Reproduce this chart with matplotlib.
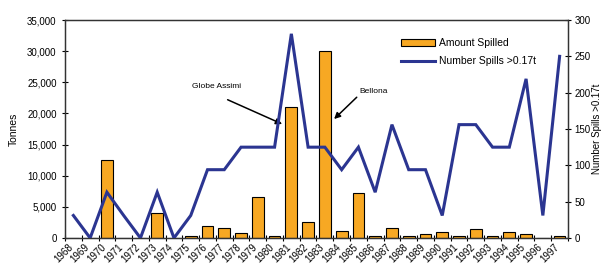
import matplotlib.pyplot as plt
from matplotlib.ticker import FuncFormatter, MultipleLocator
from matplotlib.transforms import ScaledTranslation

plt.rcParams['font.family'] = ['Liberation Sans', 'DejaVu Sans']

years = list(range(1968, 1998))
amount = [0, 0, 12600, 0, 0, 4000, 0, 300, 1900, 1600, 800, 6600, 400, 21100, 2600,
          30000, 1200, 7200, 300, 1600, 300, 600, 1000, 400, 1400, 300, 900, 600, 0, 300]
spills = [31, 0, 63, 31, 0, 63, 0, 31, 94, 94, 125, 125, 125, 281, 125,
          125, 94, 125, 63, 156, 94, 94, 31, 156, 156, 125, 125, 219, 31, 250]

orange = '#F7A823'
navy = '#2B3591'

fig = plt.figure(figsize=(6.04, 2.65), dpi=100)
ax = fig.add_axes([0.1076, 0.1019, 0.8328, 0.8226])
x = list(range(len(years)))

ax.bar(x, amount, width=0.7, color=orange, edgecolor='black', linewidth=0.8,
       label='Amount Spilled', zorder=2)
ax.set_xlim(-0.5, len(years) - 0.5)
ax.set_ylim(0, 35000)
ax.yaxis.set_major_locator(MultipleLocator(5000))
ax.yaxis.set_major_formatter(FuncFormatter(lambda v, p: f'{int(v):,}'))
ax.set_ylabel('Tonnes', fontsize=7.5, labelpad=6)

# category ticks at the boundaries, labels at the centres
ax.set_xticks(x)
ax.set_xticklabels([str(y) for y in years], rotation=45, ha='right',
                   rotation_mode='anchor', fontsize=7)
ax.set_xticks([i - 0.5 for i in range(len(years) + 1)], minor=True)
ax.tick_params(axis='x', which='major', length=0, pad=3)
ax.tick_params(axis='x', which='minor', length=4, direction='inout', width=0.8)
for lbl in ax.get_xticklabels():
    lbl.set_transform(lbl.get_transform() + ScaledTranslation(-4 / 72, 0, fig.dpi_scale_trans))
ax.tick_params(axis='y', labelsize=7, length=5, direction='inout', width=0.8)

ax2 = ax.twinx()
ax2.plot(x, spills, color=navy, lw=2.2, solid_joinstyle='miter',
         label='Number Spills >0.17t', zorder=3)
ax2.set_ylim(0, 300)
ax2.yaxis.set_major_locator(MultipleLocator(50))
ax2.tick_params(axis='y', labelsize=7, length=5, direction='inout', width=0.8, pad=2)
ax2.set_ylabel('Number Spills >0.17t', fontsize=7, labelpad=1)

for a in (ax, ax2):
    for s in a.spines.values():
        s.set_linewidth(0.9)
        s.set_color('#333333')

h1, l1 = ax.get_legend_handles_labels()
h2, l2 = ax2.get_legend_handles_labels()
ax2.legend(h1 + h2, l1 + l2, loc='upper left', bbox_to_anchor=(0.65, 0.96),
           frameon=False, fontsize=7.5, handlelength=3.2, handletextpad=0.4,
           labelspacing=0.8)

# ship annotations
arrow = dict(arrowstyle='-|>', color='black', lw=1.1, shrinkA=0, shrinkB=0,
             mutation_scale=9)
ax.text(7.1, 24250, 'Globe Assimi', fontsize=6, va='center')
ax.annotate('', xy=(12.45, 18300), xytext=(9.2, 22200), arrowprops=arrow)
ax.text(17.05, 23450, 'Bellona', fontsize=6, va='center')
ax.annotate('', xy=(15.55, 19100), xytext=(16.9, 22600), arrowprops=arrow)

fig.savefig('out.png', dpi=100)
